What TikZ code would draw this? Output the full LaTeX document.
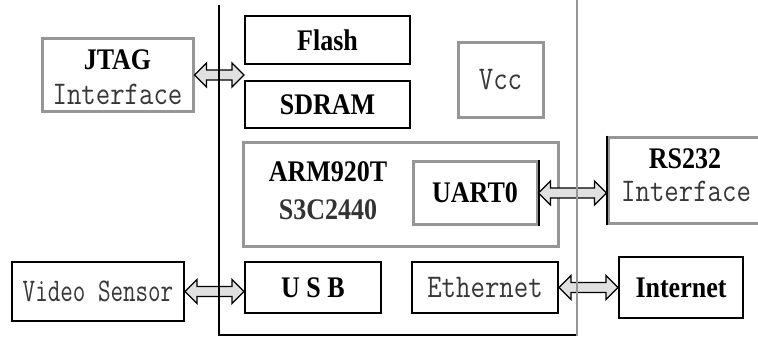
\documentclass[tikz,border=0pt]{standalone}
\usepackage{fontspec}
\usepackage{graphicx}
\setmainfont{Liberation Serif}
\usetikzlibrary{calc}
\newcommand{\bt}[1]{\scalebox{1}[1.15]{\bfseries #1}}
\newcommand{\mt}[1]{\scalebox{1}[1.18]{\ttfamily #1}}
\definecolor{boxgray}{RGB}{150,150,150}
\definecolor{txtgray}{RGB}{55,55,55}
\newcommand{\blockarrow}[2]{%
  \draw[arrowline] (#1) -- ($(#1)+(12,-12)$) -- ($(#1)+(12,-5)$)
    -- ($(#2)+(-12,-5)$) -- ($(#2)+(-12,-12)$) -- (#2)
    -- ($(#2)+(-12,12)$) -- ($(#2)+(-12,5)$)
    -- ($(#1)+(12,5)$) -- ($(#1)+(12,12)$) -- cycle;}
\begin{document}
\begin{tikzpicture}[x=1pt,y=-1pt,
  blackbox/.style={draw=black,line width=2pt,fill=white,inner sep=0pt,
    font=\fontsize{26}{26}\selectfont},
  graybox/.style={draw=boxgray,line width=3pt,fill=white,inner sep=0pt,
    font=\fontsize{26}{26}\selectfont},
  lbl/.style={inner sep=0pt,font=\fontsize{26}{26}\selectfont},
  mfont/.style={font=\fontsize{28}{28}\selectfont,text=txtgray},
  mlbl/.style={inner sep=0pt,mfont},
  arrowline/.style={draw=black,line width=1.4pt,fill=black!12,line join=miter},
  boardline/.style={line width=1.5pt}]
\useasboundingbox (0,0) rectangle (758,337);
\clip (0,0) rectangle (758,337);
% boxes
\node[graybox,minimum width=151pt,minimum height=72pt] (jtag) at (117.5,75) {};
\node[lbl] (jtagt) at (117.5,60) {\bt{JTAG}};
\node[mlbl] (jtagi) at (117.5,94) {\mt{Interface}};
\node[blackbox,minimum width=165pt,minimum height=48pt] (flash) at (327.5,40) {\bt{Flash}};
\node[blackbox,minimum width=165pt,minimum height=47pt] (sdram) at (327.5,104.5) {\bt{SDRAM}};
\node[graybox,minimum width=85pt,minimum height=74pt,mfont] (vcc) at (500.5,80) {\mt{Vcc}};
\node[graybox,minimum width=315pt,minimum height=104pt] (arm) at (400.5,194) {};
\node[lbl] (armt) at (328,172) {\bt{ARM920T}};
\node[lbl,text=black!80] (s3c) at (328,210) {\bt{S3C2440}};
\node[draw=boxgray,line width=3pt,fill=white,inner sep=0pt,minimum width=124pt,
  minimum height=63pt,font=\fontsize{26}{26}\selectfont] (uart) at (475,193) {\bt{UART0}};
\draw[line width=2pt] (uart.north east) -- (uart.south east);
\node[draw=boxgray,line width=3pt,fill=white,inner sep=0pt,minimum width=160pt,
  minimum height=86pt] (rs) at (688,180) {};
\draw[line width=2pt] (rs.north west) -- (rs.south west);
\node[lbl] (rst) at (685,159) {\bt{RS232}};
\node[mlbl,anchor=west] (rsi) at (621,191) {\mt{Interface}};
\node[blackbox,minimum width=172pt,minimum height=59pt,mfont] (video) at (98,291.5)
  {\scalebox{0.87}[1.18]{\ttfamily Video Sensor}};
\node[blackbox,minimum width=136pt,minimum height=51pt] (usb) at (313,287.5) {\bt{U S B}};
\node[blackbox,minimum width=146pt,minimum height=51pt,mfont] (eth) at (485,287.5) {\mt{Ethernet}};
\node[blackbox,minimum width=124pt,minimum height=61pt] (inet) at (681,287.5) {\bt{Internet}};
% connectors
\coordinate (jtagend) at (jtag.east -| flash.west);
\blockarrow{jtag.east}{jtagend}
\coordinate (rsend) at (uart.east -| rs.west);
\blockarrow{uart.east}{rsend}
\coordinate (videoend) at (video.east -| usb.west);
\blockarrow{video.east}{videoend}
\blockarrow{eth.east}{inet.west}
% board outline
\draw[boardline] (219,5) -- (219,335) -- (577,335);
\draw[boardline,draw=boxgray] (577,0) -- (577,336);
\end{tikzpicture}
\end{document}
